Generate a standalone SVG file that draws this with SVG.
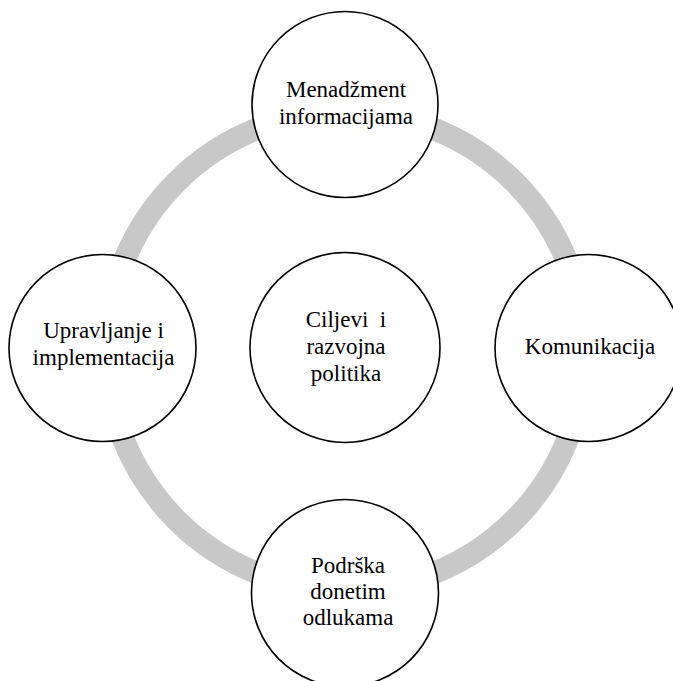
<svg xmlns="http://www.w3.org/2000/svg" width="673" height="681" viewBox="0 0 673 681">
  <style>
    .node { fill: #ffffff; stroke: #000000; stroke-width: 1.6; }
    .ring { fill: none; stroke: #c8c8c8; stroke-width: 22.5; }
    .label { font-family: "Liberation Serif", "DejaVu Serif", serif; font-size: 23px; fill: #000000; text-anchor: middle; }
  </style>
  <rect width="673" height="681" fill="#ffffff"/>

  <!-- cycle ring linking the outer nodes -->
  <g id="connectors">
    <circle class="ring" cx="345.5" cy="351" r="239"/>
  </g>

  <g id="node-top">
    <circle class="node" cx="345" cy="104.5" r="93"/>
    <text class="label" x="346" y="97">Menadžment</text>
    <text class="label" x="346" y="124">informacijama</text>
  </g>

  <g id="node-left">
    <circle class="node" cx="102.5" cy="348" r="93.5"/>
    <text class="label" x="103.5" y="338">Upravljanje i</text>
    <text class="label" x="103.5" y="365">implementacija</text>
  </g>

  <g id="node-right">
    <circle class="node" cx="588.5" cy="348" r="93.5"/>
    <text class="label" x="590" y="354">Komunikacija</text>
  </g>

  <g id="node-bottom">
    <circle class="node" cx="345" cy="593" r="93.5"/>
    <text class="label" x="348" y="573">Podrška</text>
    <text class="label" x="348" y="599">donetim</text>
    <text class="label" x="348" y="625">odlukama</text>
  </g>

  <g id="node-center">
    <circle class="node" cx="345" cy="347.5" r="95"/>
    <text class="label" x="346" y="327" xml:space="preserve">Ciljevi  i</text>
    <text class="label" x="346" y="354">razvojna</text>
    <text class="label" x="346" y="381">politika</text>
  </g>
</svg>
